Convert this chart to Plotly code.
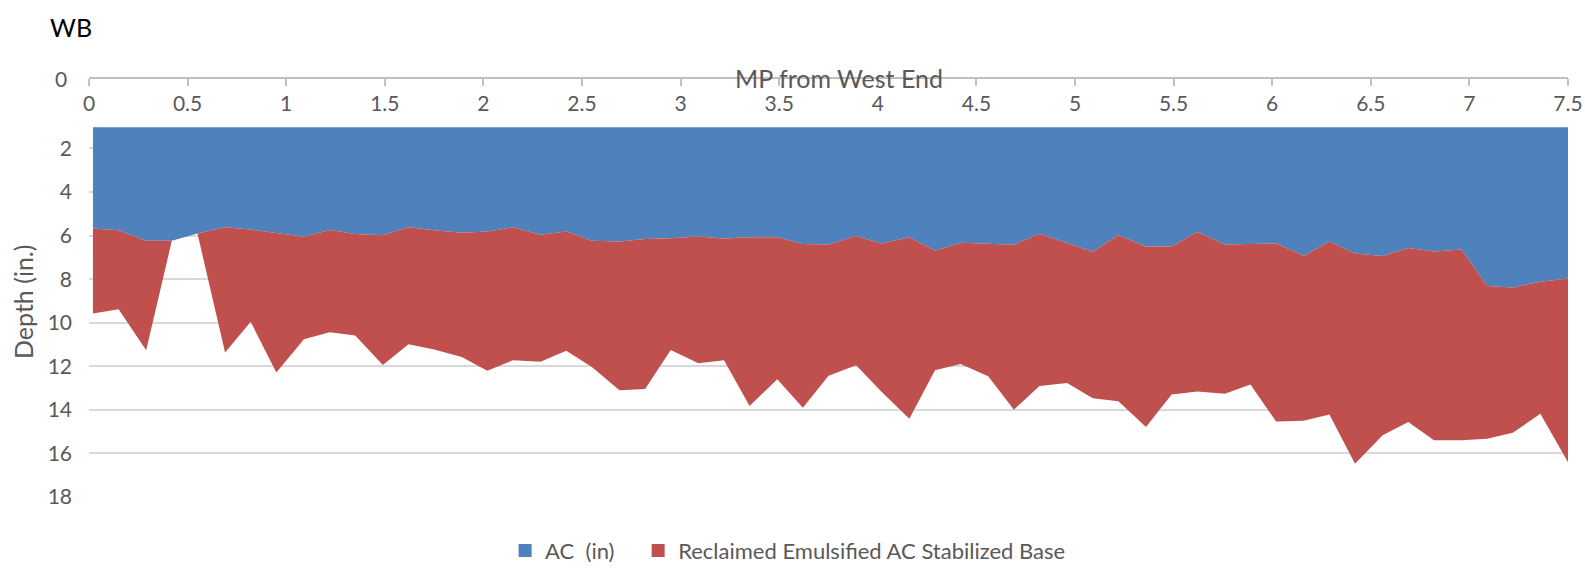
import plotly.graph_objects as go

# milepost of each core
mp = [0.02, 0.15, 0.29, 0.42, 0.55, 0.69, 0.82, 0.95, 1.09, 1.22,
      1.35, 1.49, 1.62, 1.75, 1.89, 2.02, 2.15, 2.29, 2.42, 2.55,
      2.69, 2.82, 2.95, 3.09, 3.22, 3.35, 3.49, 3.62, 3.75, 3.89,
      4.02, 4.16, 4.29, 4.42, 4.56, 4.69, 4.82, 4.96, 5.09, 5.22,
      5.36, 5.49, 5.62, 5.76, 5.89, 6.02, 6.16, 6.29, 6.42, 6.56,
      6.69, 6.82, 6.96, 7.09, 7.22, 7.36, 7.50]

# AC thickness (in.)
ac_depth = [5.67, 5.76, 6.24, 6.24, 5.90, 5.62, 5.72, 5.89, 6.05, 5.74,
            5.93, 5.99, 5.62, 5.75, 5.87, 5.81, 5.62, 5.96, 5.81, 6.24,
            6.27, 6.16, 6.12, 6.04, 6.13, 6.08, 6.08, 6.39, 6.41, 6.02,
            6.36, 6.08, 6.70, 6.33, 6.36, 6.42, 5.92, 6.36, 6.74, 5.99,
            6.50, 6.50, 5.84, 6.41, 6.38, 6.36, 6.93, 6.27, 6.82, 6.94,
            6.57, 6.73, 6.64, 8.32, 8.38, 8.12, 7.97]

# reclaimed emulsified AC stabilized base thickness (in.)
base_thickness = [3.91, 3.62, 5.02, 0.00, 0.00, 5.75, 4.24, 6.40, 4.71, 4.70,
                  4.66, 5.95, 5.37, 5.48, 5.70, 6.39, 6.10, 5.83, 5.48, 5.79,
                  6.83, 6.88, 5.13, 5.82, 5.59, 7.74, 6.52, 7.51, 6.03, 5.93,
                  6.82, 8.33, 5.48, 5.56, 6.10, 7.57, 6.98, 6.41, 6.73, 7.62,
                  8.29, 6.79, 7.32, 6.85, 6.46, 8.18, 7.57, 7.94, 9.65, 8.22,
                  7.99, 8.67, 8.76, 7.01, 6.67, 6.06, 8.43]

x_ticks = [0, 0.5, 1, 1.5, 2, 2.5, 3, 3.5, 4, 4.5, 5, 5.5, 6, 6.5, 7, 7.5]
y_ticks = [2, 4, 6, 8, 10, 12, 14, 16, 18]

series_names = ["AC\u00a0 (in)", "Reclaimed Emulsified AC Stabilized Base"]
BLUE = "#4F81BD"
RED = "#C0504D"
GREY_TEXT = "#595959"
FONT = "Lato, Carlito, Arial, sans-serif"

fig = go.Figure()
for vals, name, col in zip([ac_depth, base_thickness], series_names, [BLUE, RED]):
    fig.add_trace(go.Scatter(x=mp, y=vals, name=name, stackgroup="depth",
                             mode="lines", line=dict(width=0, color=col),
                             fillcolor=col, showlegend=False, hoverinfo="x+y+name"))
# legend swatches, one legend box each so the spacing can follow the original
for name, col, leg in zip(series_names, [BLUE, RED], ["legend", "legend2"]):
    fig.add_trace(go.Scatter(x=[None], y=[None], name=name, mode="markers",
                             marker=dict(symbol="square", size=13, color=col),
                             legend=leg))

legend_style = dict(orientation="h", xanchor="left", y=-0.126, yanchor="middle",
                    font=dict(family=FONT, size=22, color=GREY_TEXT), itemwidth=30)

fig.update_layout(
    width=1585, height=572,
    margin=dict(l=89, r=17, t=70, b=75, autoexpand=False),
    paper_bgcolor="white", plot_bgcolor="white",
    font=dict(family=FONT, color=GREY_TEXT, size=21),
    title=dict(text="WB", x=50 / 1585, xanchor="left", xref="container",
               y=1 - 28 / 572, yanchor="middle", yref="container",
               font=dict(family=FONT, size=25, color="black")),
    xaxis=dict(range=[0, 7.5], tickvals=x_ticks, anchor="free", position=0.9801,
               side="bottom", showline=True, linecolor="#bfbfbf", linewidth=1.5,
               ticks="outside", ticklen=7, tickwidth=1.5, tickcolor="#bfbfbf",
               showgrid=False, zeroline=False, automargin=False,
               tickfont=dict(family=FONT, size=21, color=GREY_TEXT)),
    yaxis=dict(domain=[0, 0.8658], range=[18, 1.03], tickvals=y_ticks,
               showgrid=True, gridcolor="#d9d9d9", gridwidth=1.5, automargin=False,
               zeroline=False, showline=False, ticks="", ticklabelstandoff=16,
               tickfont=dict(family=FONT, size=21, color=GREY_TEXT)),
    legend=dict(x=(505 - 89) / 1478.6, **legend_style),
    legend2=dict(x=(638 - 89) / 1478.6, **legend_style),
    showlegend=True,
    annotations=[
        dict(text="0", xref="paper", yref="paper", x=-0.0135, y=0.9801,
             xanchor="right", yanchor="middle", showarrow=False,
             font=dict(family=FONT, size=21, color=GREY_TEXT)),
        dict(text="MP from West End", xref="paper", yref="paper", x=0.507, y=0.9801,
             xanchor="center", yanchor="middle", showarrow=False,
             font=dict(family=FONT, size=25, color=GREY_TEXT)),
        dict(text="Depth (in.)", xref="paper", yref="paper", x=(23 - 89) / 1478.6,
             y=(497 - 302) / 427, xanchor="center", yanchor="middle",
             textangle=-90, showarrow=False,
             font=dict(family=FONT, size=25, color=GREY_TEXT)),
    ],
)

# page body has a default 8px margin; drop it so the figure fills the window
fig.write_html("out.html", config={"displayModeBar": False},
               post_script="document.body.style.margin='0';")
